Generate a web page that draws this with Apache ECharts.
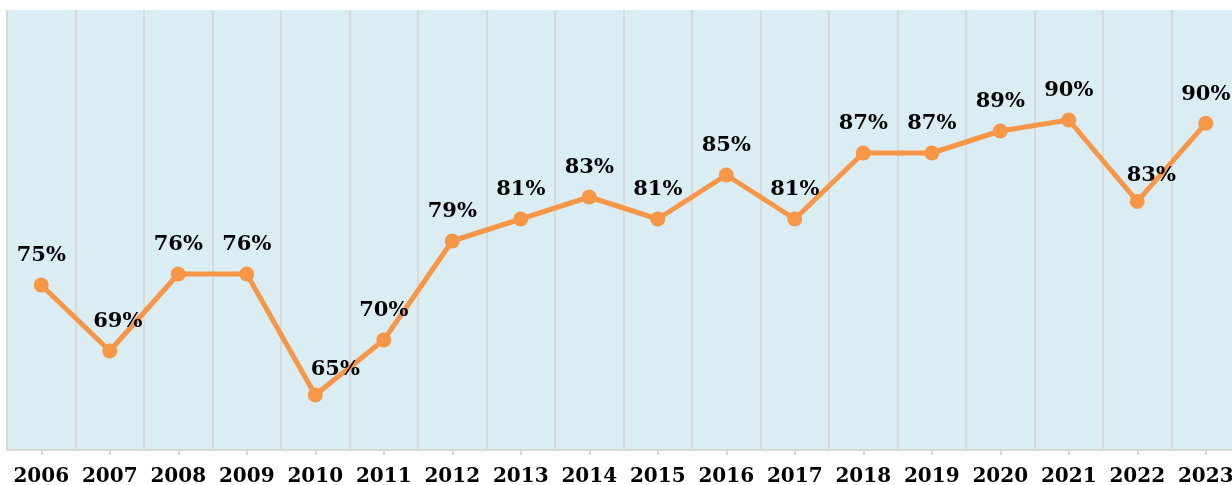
<!DOCTYPE html>
<html lang="en">
<head>
    <meta charset="UTF-8">
    <title>chart</title>
    <style type="text/css">
        body { margin: 0; background: #fff; }
        #main { width: 1232px; height: 485px; }
    </style>
    <script type="text/javascript" src="https://cdn.jsdelivr.net/npm/echarts@6/dist/echarts.min.js"></script>
</head>
<body>
    <div id="main"></div>
</body>
</html>
<script type="text/javascript">
    var years = ['2006','2007','2008','2009','2010','2011','2012','2013','2014','2015','2016','2017','2018','2019','2020','2021','2022','2023'];
    var rates = [75, 69, 76, 76, 65, 70, 79, 81, 83, 81, 85, 81, 87, 87, 89, 90, 82.6, 89.7];
    // labels that sit off to the right of the point
    var labelOffsets = {'2007': [8, 0], '2010': [20, 4], '2022': [14, 3]};

    var seriesData = [];
    for (var i = 0; i < years.length; i++) {
        var item = {value: rates[i]};
        if (labelOffsets[years[i]]) {
            item.label = {offset: labelOffsets[years[i]]};
        }
        seriesData.push(item);
    }

    var chart = echarts.init(document.getElementById('main'));
    chart.setOption({
        animation: false,
        grid: {
            top: 10,
            bottom: 35,
            left: 7,
            right: -8,
            outerBoundsMode: 'none',
            containLabel: false,
            show: true,
            backgroundColor: '#DAEDF3',
            borderWidth: 0
        },
        xAxis: {
            type: 'category',
            data: years,
            boundaryGap: true,
            axisLine: {lineStyle: {color: '#D9D9D9', width: 2}},
            axisTick: {show: true, interval: 0, alignWithLabel: true, length: 5, lineStyle: {color: '#D9D9D9', width: 2}},
            axisLabel: {
                interval: 0,
                margin: 17,
                color: '#000',
                fontFamily: 'DejaVu Serif',
                fontWeight: 'bold',
                fontSize: 20,
                hideOverlap: false
            },
            splitLine: {show: true, interval: 0, lineStyle: {color: '#D9D9D9', width: 2}}
        },
        yAxis: {
            type: 'value',
            min: 60,
            max: 100,
            show: false,
            splitLine: {show: false}
        },
        series: [{
            type: 'line',
            data: seriesData,
            symbol: 'circle',
            symbolSize: 15,
            lineStyle: {color: '#F79646', width: 5},
            itemStyle: {color: '#F79646'},
            label: {
                show: true,
                position: 'top',
                distance: 11,
                color: '#000',
                fontFamily: 'DejaVu Serif',
                fontWeight: 'bold',
                fontSize: 21,
                formatter: function (p) { return Math.round(p.value) + '%'; }
            }
        }]
    });
</script>
